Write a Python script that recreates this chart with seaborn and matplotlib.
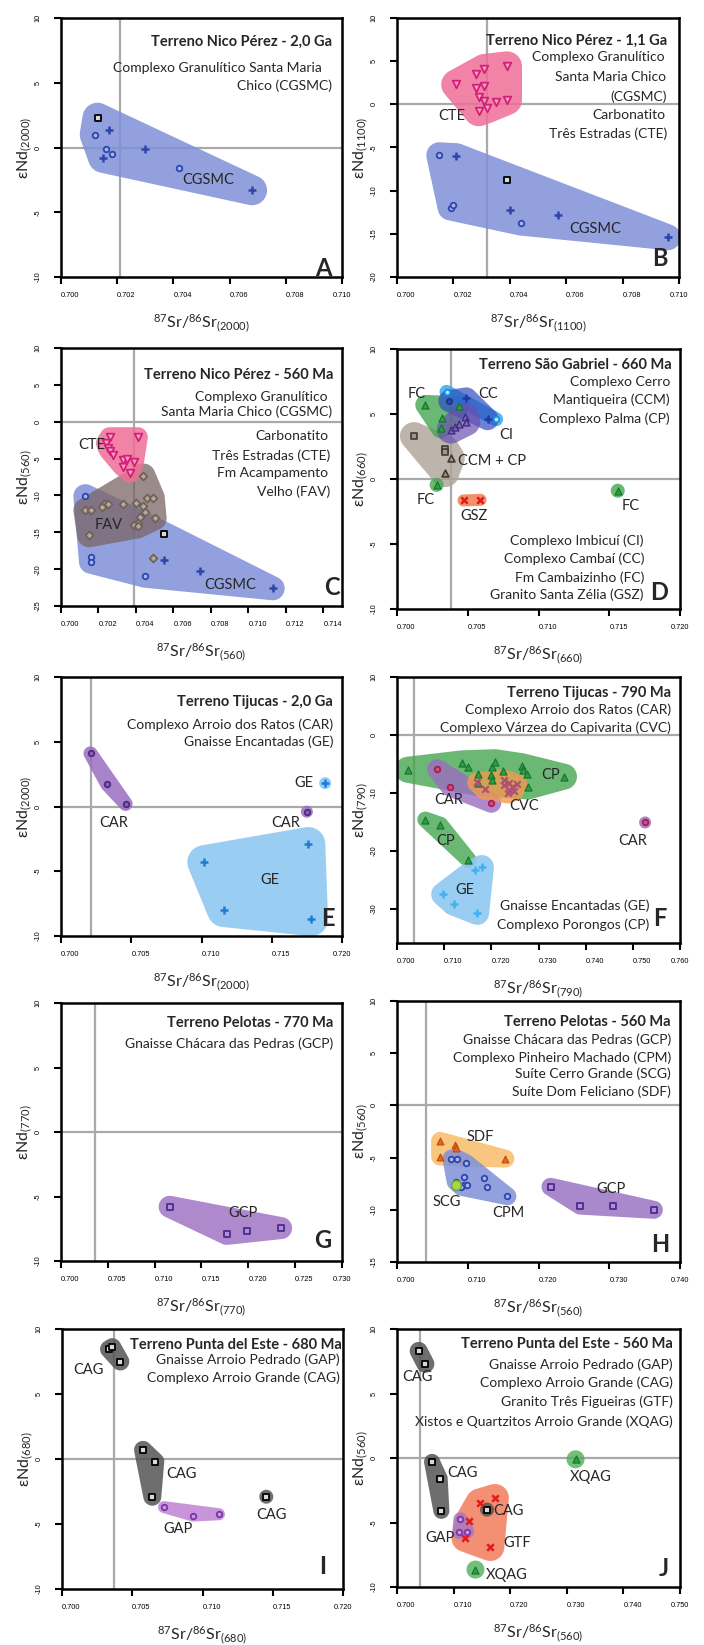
import numpy as np
import matplotlib
matplotlib.use('Agg')
import matplotlib.pyplot as plt
import seaborn as sns

W, H, DPI = 704, 1645, 100

# ---------------- data (87Sr/86Sr, eNd) ----------------
# A - Nico Perez 2.0 Ga
a_cgsmc_sq_x = [0.7013]
a_cgsmc_sq_y = [2.3]
a_cgsmc_o_x = [0.7012, 0.7016, 0.7018, 0.7042]
a_cgsmc_o_y = [1.0, -0.1, -0.5, -1.6]
a_cgsmc_p_x = [0.7017, 0.7015, 0.7030, 0.7068]
a_cgsmc_p_y = [1.35, -0.8, -0.1, -3.3]

# B - Nico Perez 1.1 Ga
b_cte_x = [0.7021, 0.7028, 0.7031, 0.7039, 0.7028, 0.7031, 0.7029, 0.7031, 0.7035, 0.7039, 0.7029, 0.7032]
b_cte_y = [2.3, 3.5, 4.1, 4.4, 1.9, 2.1, 0.9, 0.4, 0.25, 0.5, -0.8, -0.45]
b_cgsmc_o_x = [0.7015, 0.7019, 0.7020, 0.7044]
b_cgsmc_o_y = [-5.9, -11.95, -11.65, -13.7]
b_cgsmc_p_x = [0.7021, 0.7040, 0.7057, 0.7096]
b_cgsmc_p_y = [-6.0, -12.2, -12.8, -15.4]
b_cgsmc_sq_x = [0.7039]
b_cgsmc_sq_y = [-8.8]

# C - Nico Perez 560 Ma
c_cte_x = [0.7026, 0.7041, 0.7024, 0.7025, 0.7026, 0.7028, 0.7033, 0.7035, 0.7039, 0.7033, 0.7037]
c_cte_y = [-2.1, -2.1, -2.9, -3.6, -4.0, -4.5, -5.2, -5.0, -5.4, -6.1, -6.9]
c_fav_x = [0.7044, 0.7013, 0.7016, 0.7023, 0.7025, 0.7022, 0.7033, 0.7040, 0.7046, 0.7049,
           0.7044, 0.7045, 0.7042, 0.7050, 0.7041, 0.7039, 0.7041, 0.7015]
c_fav_y = [-7.3, -12.0, -12.0, -11.1, -11.1, -11.6, -11.1, -11.0, -10.4, -10.3,
           -11.4, -12.2, -12.9, -13.1, -13.7, -14.0, -14.2, -15.4]
c_fav2_x = [0.7049]
c_fav2_y = [-18.5]
c_cgsmc_o_x = [0.7013, 0.7016, 0.7016, 0.7045]
c_cgsmc_o_y = [-10.1, -18.4, -19.0, -20.9]
c_cgsmc_p_x = [0.7055, 0.7074, 0.7113]
c_cgsmc_p_y = [-18.8, -20.2, -22.6]
c_cgsmc_sq_x = [0.7055]
c_cgsmc_sq_y = [-15.2]

# D - Sao Gabriel 660 Ma
d_fc_x = [0.7020, 0.7032, 0.7031, 0.7044]
d_fc_y = [5.7, 4.7, 3.9, 5.6]
d_fc2_x = [0.7028]
d_fc2_y = [-0.45]
d_fc3_x = [0.7156]
d_fc3_y = [-0.9]
d_cc_p_x = [0.7049, 0.7064]
d_cc_p_y = [6.2, 4.6]
d_cc_o_x = [0.7037]
d_cc_o_y = [6.0]
d_ci_x = [0.7035, 0.7070]
d_ci_y = [6.7, 4.6]
d_cp_x = [0.7038, 0.7041, 0.7044, 0.7048, 0.7049]
d_cp_y = [3.8, 4.0, 4.2, 4.8, 4.4]
d_ccm_sq_x = [0.7012, 0.7034, 0.7034]
d_ccm_sq_y = [3.3, 2.3, 2.05]
d_ccm_tri_x = [0.7038, 0.7034]
d_ccm_tri_y = [1.6, 0.45]
d_gsz_x = [0.7047, 0.7059]
d_gsz_y = [-1.65, -1.6]

# E - Tijucas 2.0 Ga
e_car_x = [0.7021, 0.7033, 0.7046]
e_car_y = [4.1, 1.7, 0.2]
e_car2_x = [0.7175]
e_car2_y = [-0.4]
e_ge_x = [0.7176, 0.7102, 0.7116, 0.7178]
e_ge_y = [-2.9, -4.3, -8.0, -8.7]
e_ge2_x = [0.7188]
e_ge2_y = [1.8]

# F - Tijucas 790 Ma
f_cp_x = [0.7023, 0.7138, 0.7151, 0.7202, 0.7208, 0.7200, 0.7225, 0.7265, 0.7268, 0.7275,
          0.7277, 0.7354, 0.7172, 0.7172, 0.7202]
f_cp_y = [-6.0, -4.9, -5.5, -5.5, -4.7, -6.9, -6.2, -5.4, -6.0, -6.7,
          -8.9, -7.2, -6.8, -8.3, -7.7]
f_cp2_x = [0.7060, 0.7092, 0.7151]
f_cp2_y = [-14.6, -15.5, -21.5]
f_car_x = [0.7085, 0.7113, 0.7200]
f_car_y = [-5.9, -8.9, -11.7]
f_car2_x = [0.7526]
f_car2_y = [-15.1]
f_cvc_x = [0.7170, 0.7186, 0.7226, 0.7237, 0.7244, 0.7255, 0.7236, 0.7237, 0.7226, 0.7248]
f_cvc_y = [-8.2, -9.4, -8.6, -8.3, -8.9, -8.4, -10.1, -9.5, -7.7, -9.7]
f_ge_x = [0.7166, 0.7180, 0.7098, 0.7120, 0.7170]
f_ge_y = [-23.3, -22.8, -27.5, -29.1, -30.7]

# G - Pelotas 770 Ma
g_gcp_x = [0.7116, 0.7177, 0.7199, 0.7235]
g_gcp_y = [-5.8, -7.9, -7.65, -7.45]

# H - Pelotas 560 Ma
h_sdf_x = [0.7061, 0.7061, 0.7082, 0.7084, 0.7153]
h_sdf_y = [-3.4, -4.9, -3.8, -4.1, -5.1]
h_cpm_x = [0.7077, 0.7085, 0.7097, 0.7095, 0.7083, 0.7094, 0.7099, 0.7091, 0.7123, 0.7127, 0.7156]
h_cpm_y = [-5.1, -5.1, -5.5, -6.85, -7.3, -7.6, -7.65, -7.8, -7.0, -7.8, -8.7]
h_scg_x = [0.7084]
h_scg_y = [-7.65]
h_gcp_x = [0.7217, 0.7259, 0.7305, 0.7363]
h_gcp_y = [-7.8, -9.6, -9.6, -10.0]

# I - Punta del Este 680 Ma
i_cag1_x = [0.70335, 0.70358, 0.70415]
i_cag1_y = [8.45, 8.6, 7.5]
i_cag2_x = [0.70577, 0.70664, 0.70643]
i_cag2_y = [0.7, -0.2, -2.9]
i_cag3_x = [0.71454]
i_cag3_y = [-2.9]
i_gap_x = [0.70726, 0.70932, 0.71117]
i_gap_y = [-3.7, -4.35, -4.25]

# J - Punta del Este 560 Ma
j_cag1_x = [0.70383, 0.70501]
j_cag1_y = [8.3, 7.3]
j_cag2_x = [0.70619, 0.70755, 0.70784]
j_cag2_y = [-0.3, -1.6, -4.1]
j_cag3_x = [0.71592]
j_cag3_y = [-4.0]
j_gap_x = [0.7112, 0.7110, 0.7124]
j_gap_y = [-4.75, -5.75, -5.7]
j_gtf_x = [0.7146, 0.7173, 0.7127, 0.7121, 0.7165]
j_gtf_y = [-3.45, -3.1, -4.9, -6.2, -6.9]
j_xqag1_x = [0.73155]
j_xqag1_y = [-0.1]
j_xqag2_x = [0.71386]
j_xqag2_y = [-8.65]

# reference (bulk earth) Sr ratio per panel
ref_sr = {'A': 0.7021, 'B': 0.7032, 'C': 0.7039, 'D': 0.7038, 'E': 0.7021,
          'F': 0.7037, 'G': 0.7036, 'H': 0.7041, 'I': 0.7037, 'J': 0.7040}

# ---------------- styles ----------------
MK = {
    'sq_k': dict(marker='s', s=16, color='#d9d9d9', edgecolor='black', linewidth=1.3),
    'o_blue': dict(marker='o', s=16, color='#a9b5ea', edgecolor='#2d45ad', linewidth=1.3),
    'p_blue': dict(marker='+', s=40, color='#2d45ad', linewidth=1.8),
    'v_pink': dict(marker='v', s=30, color='#f6a3c0', edgecolor='#d31f78', linewidth=1.3),
    'd_gray': dict(marker='D', s=16, color='#b5a89c', edgecolor='#6f625a', linewidth=1.3),
    'tri_green': dict(marker='^', s=26, color='#27a243', edgecolor='#17702b', linewidth=0.8),
    'o_cc': dict(marker='o', s=16, color='#2d45ad', edgecolor='#1c2f80', linewidth=1.0),
    'p_cc': dict(marker='+', s=40, color='#1f3aa8', linewidth=1.8),
    'o_ci': dict(marker='o', s=16, color='#bfe3fb', edgecolor='#1c8ee2', linewidth=1.3),
    'tri_purple': dict(marker='^', s=24, color='#7b66b8', edgecolor='#3e2c80', linewidth=1.0),
    'sq_gray': dict(marker='s', s=16, color='#a0968c', edgecolor='#3f3a36', linewidth=1.2),
    'tri_gray': dict(marker='^', s=24, color='#a0968c', edgecolor='#3f3a36', linewidth=1.2),
    'x_red': dict(marker='x', s=22, color='#e3191c', linewidth=1.8),
    'o_car': dict(marker='o', s=16, color='#8a62b5', edgecolor='#4b2a80', linewidth=1.3),
    'p_ge': dict(marker='+', s=40, color='#1f7bd3', linewidth=1.8),
    'o_car_f': dict(marker='o', s=16, color='#c05a8a', edgecolor='#b0184f', linewidth=1.3),
    'x_cvc': dict(marker='x', s=22, color='#b05070', linewidth=1.6),
    'p_cyan': dict(marker='+', s=40, color='#3fb3f2', linewidth=1.8),
    'sq_purple': dict(marker='s', s=16, color='#b08fd6', edgecolor='#4d2a8c', linewidth=1.3),
    'tri_orange': dict(marker='^', s=24, color='#e8641c', edgecolor='#c04a10', linewidth=0.8),
    'o_lime': dict(marker='o', s=50, color='#a8d64a', edgecolor='#6aa82a', linewidth=1.0),
    'o_gap': dict(marker='o', s=16, color='#c99ae0', edgecolor='#7a35a8', linewidth=1.3),
}

BLUE, PINK, FAVC = '#7f90d8', '#ef6f97', '#7a6565'
GREEN, PURP, ORNG, LBLUE, GRAY = '#45a650', '#9a6dc0', '#f39a50', '#8ec8f0', '#555555'

panels = [
    dict(key='A', rect=(61, 18, 281, 259), t='2000', xlim=(0.700, 0.710), xt=(0.700, 0.710, 0.002),
         ylim=(-10, 10), yt=(-10, 10, 5),
         fields=[([(a_cgsmc_sq_x, a_cgsmc_sq_y), (a_cgsmc_o_x, a_cgsmc_o_y), (a_cgsmc_p_x, a_cgsmc_p_y)], BLUE, 0.85, 15)],
         pts=[(a_cgsmc_o_x, a_cgsmc_o_y, 'o_blue'), (a_cgsmc_p_x, a_cgsmc_p_y, 'p_blue'), (a_cgsmc_sq_x, a_cgsmc_sq_y, 'sq_k')],
         labels=[('CGSMC', 0.70525, -2.5)],
         head=[('Terreno Nico Pérez - 2,0 Ga', 10, 24, True), ('Complexo Granulítico Santa Maria', 20, 50, False),
               ('Chico (CGSMC)', 10, 68, False)],
         letter=(19, 9)),
    dict(key='B', rect=(397, 18, 282, 259), t='1100', xlim=(0.700, 0.710), xt=(0.700, 0.710, 0.002),
         ylim=(-20, 10), yt=(-20, 10, 5),
         fields=[([(b_cgsmc_o_x, b_cgsmc_o_y), (b_cgsmc_p_x, b_cgsmc_p_y), (b_cgsmc_sq_x, b_cgsmc_sq_y)], BLUE, 0.85, 13),
                 ([(b_cte_x, b_cte_y)], PINK, 0.85, 15)],
         pts=[(b_cte_x, b_cte_y, 'v_pink'), (b_cgsmc_o_x, b_cgsmc_o_y, 'o_blue'), (b_cgsmc_p_x, b_cgsmc_p_y, 'p_blue'),
              (b_cgsmc_sq_x, b_cgsmc_sq_y, 'sq_k')],
         labels=[('CTE', 0.70195, -1.4), ('CGSMC', 0.70704, -14.4)],
         head=[('Terreno Nico Pérez - 1,1 Ga', 12, 23, True), ('Complexo Granulítico', 14, 39, False),
               ('Santa Maria Chico', 13, 59, False), ('(CGSMC)', 12, 79, False),
               ('Carbonatito', 14, 97, False), ('Três Estradas (CTE)', 12, 116, False)],
         letter=(19, 19)),
    dict(key='C', rect=(61, 348, 281, 258), t='560', xlim=(0.700, 0.715), xt=(0.700, 0.714, 0.002),
         ylim=(-25, 10), yt=(-25, 10, 5),
         fields=[([(c_cgsmc_o_x, c_cgsmc_o_y), (c_cgsmc_p_x, c_cgsmc_p_y), (c_cgsmc_sq_x, c_cgsmc_sq_y)], BLUE, 0.85, 12),
                 ([(c_fav_x, c_fav_y)], FAVC, 0.75, 12),
                 ([(c_cte_x, c_cte_y)], PINK, 0.85, 10)],
         pts=[(c_cte_x, c_cte_y, 'v_pink'), (c_fav_x, c_fav_y, 'd_gray'), (c_fav2_x, c_fav2_y, 'd_gray'),
              (c_cgsmc_o_x, c_cgsmc_o_y, 'o_blue'), (c_cgsmc_p_x, c_cgsmc_p_y, 'p_blue'),
              (c_cgsmc_sq_x, c_cgsmc_sq_y, 'sq_k')],
         labels=[('CTE', 0.70164, -3.1), ('FAV', 0.70254, -14.0), ('CGSMC', 0.70905, -22.1)],
         head=[('Terreno Nico Pérez - 560 Ma', 9, 27, True), ('Complexo Granulítico', 14, 49, False),
               ('Santa Maria Chico (CGSMC)', 10, 64, False), ('Carbonatito', 14, 88, False),
               ('Três Estradas (CTE)', 12, 108, False), ('Fm Acampamento', 14, 125, False),
               ('Velho (FAV)', 12, 144, False)],
         letter=(10, 18)),
    dict(key='D', rect=(397, 349, 283, 260), t='660', xlim=(0.700, 0.720), xt=(0.700, 0.720, 0.005),
         ylim=(-10, 10), yt=(-10, 10, 5),
         fields=[([(d_ccm_sq_x, d_ccm_sq_y), (d_ccm_tri_x, d_ccm_tri_y)], '#ada396', 0.8, 14),
                 ([(d_fc_x, d_fc_y)], GREEN, 0.8, 10), ([(d_fc2_x, d_fc2_y)], GREEN, 0.8, 7),
                 ([(d_fc3_x, d_fc3_y)], GREEN, 0.8, 7),
                 ([(d_ci_x, d_ci_y)], '#39a9ec', 0.85, 7),
                 ([(d_cc_p_x, d_cc_p_y), (d_cc_o_x, d_cc_o_y)], '#2c4fbf', 0.7, 11),
                 ([(d_cp_x, d_cp_y)], '#6a50b0', 0.7, 14),
                 ([(d_gsz_x, d_gsz_y)], '#f07f50', 0.85, 6)],
         pts=[(d_fc_x, d_fc_y, 'tri_green'), (d_fc2_x, d_fc2_y, 'tri_green'), (d_fc3_x, d_fc3_y, 'tri_green'),
              (d_cc_p_x, d_cc_p_y, 'p_cc'), (d_cc_o_x, d_cc_o_y, 'o_cc'), (d_ci_x, d_ci_y, 'o_ci'),
              (d_cp_x, d_cp_y, 'tri_purple'), (d_ccm_sq_x, d_ccm_sq_y, 'sq_gray'),
              (d_ccm_tri_x, d_ccm_tri_y, 'tri_gray'), (d_gsz_x, d_gsz_y, 'x_red')],
         labels=[('FC', 0.70141, 6.54), ('CC', 0.70647, 6.54), ('CI', 0.70769, 3.41), ('CCM + CP', 0.70671, 1.36),
                 ('FC', 0.70200, -1.59), ('GSZ', 0.70541, -2.87), ('FC', 0.71654, -2.1)],
         head=[('Terreno São Gabriel - 660 Ma', 8, 16, True), ('Complexo Cerro', 10, 33, False),
               ('Mantiqueira (CCM)', 10, 51, False), ('Complexo Palma (CP)', 10, 70, False),
               ('Complexo Imbicuí (CI)', 36, 192, False), ('Complexo Cambaí (CC)', 36, 210, False),
               ('Fm Cambaizinho (FC)', 36, 229, False), ('Granito Santa Zélia (GSZ)', 36, 246, False)],
         letter=(21, 17)),
    dict(key='E', rect=(61, 677, 281, 259), t='2000', xlim=(0.700, 0.720), xt=(0.700, 0.720, 0.005),
         ylim=(-10, 10), yt=(-10, 10, 5),
         fields=[([(e_car_x, e_car_y)], PURP, 0.85, 7), ([(e_car2_x, e_car2_y)], PURP, 0.85, 6),
                 ([(e_ge_x, e_ge_y)], LBLUE, 0.9, 17), ([(e_ge2_x, e_ge2_y)], LBLUE, 0.9, 6)],
         pts=[(e_car_x, e_car_y, 'o_car'), (e_car2_x, e_car2_y, 'o_car'), (e_ge_x, e_ge_y, 'p_ge'),
              (e_ge2_x, e_ge2_y, 'p_ge')],
         labels=[('CAR', 0.70372, -1.29), ('CAR', 0.7160, -1.24), ('GE', 0.71728, 1.8), ('GE', 0.71486, -5.67)],
         head=[('Terreno Tijucas - 2,0 Ga', 9, 25, True), ('Complexo Arroio dos Ratos (CAR)', 9, 48, False),
               ('Gnaisse Encantadas (GE)', 9, 65, False)],
         letter=(14, 18)),
    dict(key='F', rect=(397, 677, 283, 266), t='790', xlim=(0.700, 0.760), xt=(0.700, 0.760, 0.010),
         ylim=(-35.9, 10), yt=(-30, 10, 10),
         fields=[([(f_cp_x, f_cp_y)], GREEN, 0.8, 13), ([(f_cp2_x, f_cp2_y)], GREEN, 0.8, 8),
                 ([(f_car_x, f_car_y)], PURP, 0.8, 10), ([(f_car2_x, f_car2_y)], PURP, 0.85, 6),
                 ([(f_cvc_x, f_cvc_y)], ORNG, 0.8, 10), ([(f_ge_x, f_ge_y)], LBLUE, 0.9, 12)],
         pts=[(f_cp_x, f_cp_y, 'tri_green'), (f_cp2_x, f_cp2_y, 'tri_green'), (f_car_x, f_car_y, 'o_car_f'),
              (f_car2_x, f_car2_y, 'o_car_f'), (f_cvc_x, f_cvc_y, 'x_cvc'), (f_ge_x, f_ge_y, 'p_cyan')],
         labels=[('CP', 0.73255, -6.84), ('CAR', 0.71097, -11.15), ('CVC', 0.72689, -12.3), ('CP', 0.7104, -18.3),
                 ('GE', 0.7145, -26.7), ('CAR', 0.75002, -18.3)],
         head=[('Terreno Tijucas - 790 Ma', 9, 16, True), ('Complexo Arroio dos Ratos (CAR)', 9, 33, False),
               ('Complexo Várzea do Capivarita (CVC)', 9, 51, False),
               ('Gnaisse Encantadas (GE)', 31, 229, False), ('Complexo Porongos (CP)', 31, 248, False)],
         letter=(20, 25)),
    dict(key='G', rect=(61, 1003, 281, 258), t='770', xlim=(0.700, 0.730), xt=(0.700, 0.730, 0.005),
         ylim=(-10, 10), yt=(-10, 10, 5),
         fields=[([(g_gcp_x, g_gcp_y)], '#a57dc8', 0.9, 11)],
         pts=[(g_gcp_x, g_gcp_y, 'sq_purple')],
         labels=[('GCP', 0.71944, -6.3)],
         head=[('Terreno Pelotas - 770 Ma', 9, 20, True), ('Gnaisse Chácara das Pedras (GCP)', 9, 41, False)],
         letter=(19, 21)),
    dict(key='H', rect=(397, 1001, 283, 261), t='560', xlim=(0.700, 0.740), xt=(0.700, 0.740, 0.010),
         ylim=(-15, 10), yt=(-15, 10, 5),
         fields=[([(h_sdf_x, h_sdf_y)], '#f9c072', 0.9, 9), ([(h_cpm_x, h_cpm_y)], BLUE, 0.85, 9),
                 ([(h_gcp_x, h_gcp_y)], '#a07bc6', 0.9, 9)],
         pts=[(h_sdf_x, h_sdf_y, 'tri_orange'), (h_cpm_x, h_cpm_y, 'o_blue'), (h_scg_x, h_scg_y, 'o_lime'),
              (h_gcp_x, h_gcp_y, 'sq_purple')],
         labels=[('SDF', 0.71179, -3.01), ('SCG', 0.70708, -9.25), ('CPM', 0.7158, -10.3), ('GCP', 0.73019, -8.03)],
         head=[('Terreno Pelotas - 560 Ma', 9, 21, True), ('Gnaisse Chácara das Pedras (GCP)', 9, 39, False),
               ('Complexo Pinheiro Machado (CPM)', 9, 57, False), ('Suíte Cerro Grande (SCG)', 9, 73, False),
               ('Suíte Dom Feliciano (SDF)', 9, 91, False)],
         letter=(20, 18)),
    dict(key='I', rect=(62, 1329, 281, 260), t='680', xlim=(0.700, 0.720), xt=(0.700, 0.720, 0.005),
         ylim=(-10, 10), yt=(-10, 10, 5),
         fields=[([(i_cag1_x, i_cag1_y)], GRAY, 0.85, 9), ([(i_cag2_x, i_cag2_y)], GRAY, 0.85, 9),
                 ([(i_cag3_x, i_cag3_y)], GRAY, 0.85, 7), ([(i_gap_x, i_gap_y)], '#c28ad8', 0.9, 6)],
         pts=[(i_cag1_x, i_cag1_y, 'sq_k'), (i_cag2_x, i_cag2_y, 'sq_k'), (i_cag3_x, i_cag3_y, 'sq_k'),
              (i_gap_x, i_gap_y, 'o_gap')],
         labels=[('CAG', 0.70185, 6.83), ('CAG', 0.70849, -1.16), ('CAG', 0.7149, -4.33), ('GAP', 0.70826, -5.41)],
         head=[('Terreno Punta del Este - 680 Ma', 1, 16, True), ('Gnaisse Arroio Pedrado (GAP)', 3, 31, False),
               ('Complexo Arroio Grande (CAG)', 3, 49, False)],
         letter=(20, 22)),
    dict(key='J', rect=(397, 1329, 283, 258), t='560', xlim=(0.700, 0.750), xt=(0.700, 0.750, 0.010),
         ylim=(-10, 10), yt=(-10, 10, 5),
         fields=[([(j_gtf_x, j_gtf_y)], '#f27b5a', 0.85, 14),
                 ([(j_cag1_x, j_cag1_y)], GRAY, 0.85, 9), ([(j_cag2_x, j_cag2_y)], GRAY, 0.85, 8),
                 ([(j_cag3_x, j_cag3_y)], GRAY, 0.85, 7), ([(j_gap_x, j_gap_y)], '#a278c8', 0.8, 7),
                 ([(j_xqag1_x, j_xqag1_y)], '#4fae5a', 0.8, 9), ([(j_xqag2_x, j_xqag2_y)], '#4fae5a', 0.8, 9)],
         pts=[(j_cag1_x, j_cag1_y, 'sq_k'), (j_cag2_x, j_cag2_y, 'sq_k'), (j_cag3_x, j_cag3_y, 'sq_k'),
              (j_gap_x, j_gap_y, 'o_gap'), (j_gtf_x, j_gtf_y, 'x_red'), (j_xqag1_x, j_xqag1_y, 'tri_green'),
              (j_xqag2_x, j_xqag2_y, 'tri_green')],
         labels=[('CAG', 0.70354, 6.3), ('CAG', 0.71162, -1.2), ('CAG', 0.71975, -4.13), ('GAP', 0.70767, -6.2),
                 ('GTF', 0.72123, -6.58), ('XQAG', 0.7342, -1.51), ('XQAG', 0.71946, -9.04)],
         head=[('Terreno Punta del Este - 560 Ma', 7, 15, True), ('Gnaisse Arroio Pedrado (GAP)', 7, 36, False),
               ('Complexo Arroio Grande (CAG)', 7, 54, False), ('Granito Três Figueiras (GTF)', 7, 73, False),
               ('Xistos e Quartzitos Arroio Grande (XQAG)', 7, 93, False)],
         letter=(16, 19)),
]


def convex_hull(points):
    pts = sorted(set(map(tuple, points)))
    if len(pts) < 3:
        return pts

    def cross(o, a, b):
        return (a[0] - o[0]) * (b[1] - o[1]) - (a[1] - o[1]) * (b[0] - o[0])
    lower, upper = [], []
    for p in pts:
        while len(lower) >= 2 and cross(lower[-2], lower[-1], p) <= 0:
            lower.pop()
        lower.append(p)
    for p in reversed(pts):
        while len(upper) >= 2 and cross(upper[-2], upper[-1], p) <= 0:
            upper.pop()
        upper.append(p)
    return lower[:-1] + upper[:-1]


def envelope(ax, groups, color, alpha, pad):
    # padded hull around the points, computed in pixel space
    xs = np.concatenate([g[0] for g in groups])
    ys = np.concatenate([g[1] for g in groups])
    px = ax.transData.transform(np.column_stack([xs, ys]))
    ang = np.linspace(0, 2 * np.pi, 36, endpoint=False)
    ring = np.column_stack([np.cos(ang), np.sin(ang)]) * pad
    cloud = (px[:, None, :] + ring[None, :, :]).reshape(-1, 2)
    hull = np.array(convex_hull(np.round(cloud, 3)))
    verts = ax.transData.inverted().transform(hull)
    ax.fill(verts[:, 0], verts[:, 1], color=color, alpha=alpha, lw=0, zorder=1)


sns.set_style('ticks')
plt.rcParams['font.family'] = ['Lato', 'DejaVu Sans']
plt.rcParams['mathtext.fontset'] = 'custom'
plt.rcParams['mathtext.rm'] = 'Lato'
plt.rcParams['mathtext.default'] = 'regular'

fig = plt.figure(figsize=(W / DPI, H / DPI), dpi=DPI)

for p in panels:
    l, t, w, h = p['rect']
    ax = fig.add_axes([l / W, 1 - (t + h) / H, w / W, h / H])
    ax.set_xlim(*p['xlim'])
    ax.set_ylim(*p['ylim'])

    ax.axhline(0, color='#a9a9a9', lw=1.6, zorder=0.5)
    ax.axvline(ref_sr[p['key']], color='#a9a9a9', lw=1.6, zorder=0.5)

    for groups, col, alpha, pad in p['fields']:
        envelope(ax, groups, col, alpha, pad)

    for xs, ys, style in p['pts']:
        sns.scatterplot(x=xs, y=ys, ax=ax, zorder=3, legend=False, **MK[style])

    for txt, x, y in p['labels']:
        ax.text(x, y, txt, fontsize=10.5, ha='center', va='center', zorder=4)

    for txt, dx, dy, bold in p['head']:
        ax.annotate(txt, xy=(1, 1), xycoords='axes fraction', xytext=(-dx, -dy), textcoords='offset pixels',
                    ha='right', va='center', fontsize=10.5 if bold else 10,
                    fontweight='bold' if bold else 'normal', zorder=5)

    ax.annotate(p['key'], xy=(1, 0), xycoords='axes fraction', xytext=(-p['letter'][0], p['letter'][1]),
                textcoords='offset pixels', ha='center', va='center', fontsize=17, fontweight='bold')

    x0, x1, xs_ = p['xt']
    xticks = np.round(np.arange(x0, x1 + xs_ / 2, xs_), 3)
    y0, y1, ys_ = p['yt']
    yticks = np.arange(y0, y1 + 1, ys_)
    ax.set_xticks(xticks)
    ax.set_xticklabels(['%.3f' % v for v in xticks])
    ax.set_yticks(yticks)
    ax.set_yticklabels(['%d' % v for v in yticks])
    ax.set_xlim(*p['xlim'])
    ax.set_ylim(*p['ylim'])

    ax.tick_params(direction='out', length=5, width=1.5, labelsize=5.3, colors='black')
    ax.tick_params(axis='x', pad=6)
    ax.tick_params(axis='y', pad=9, labelrotation=90)
    xlabs = ax.get_xticklabels()
    for i, lab in enumerate(xlabs):
        edge = i == len(xlabs) - 1 and xticks[-1] >= p['xlim'][1] - 1e-9
        lab.set_ha('center' if edge else 'left')
        lab.set_family('Liberation Sans')
    for lab in ax.get_yticklabels():
        lab.set_va('center')
        lab.set_family('Liberation Sans')

    for s in ax.spines.values():
        s.set_linewidth(1.8)
        s.set_color('black')

    tag = p['t']
    ax.set_xlabel('$^{87}$Sr/$^{86}$Sr$_{(%s)}$' % tag, fontsize=11.5)
    ax.xaxis.set_label_coords(0.5, -35 / h)
    ax.set_ylabel('εNd$_{(%s)}$' % tag, fontsize=11.5)
    ax.yaxis.set_label_coords(-27 / w, 0.5)

fig.savefig('out.png', dpi=DPI)
